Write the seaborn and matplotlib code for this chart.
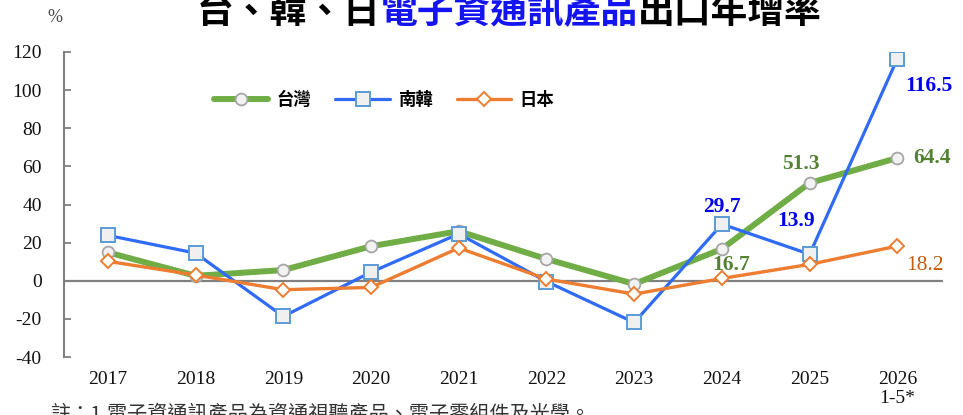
import matplotlib
matplotlib.use("Agg")
import matplotlib.pyplot as plt
import seaborn as sns
import pandas as pd

years = ["2017", "2018", "2019", "2020", "2021", "2022", "2023", "2024", "2025", "2026\n1-5*"]
taiwan = [14.9, 2.6, 5.6, 18.1, 26.0, 11.4, -1.7, 16.7, 51.3, 64.4]
korea = [23.8, 14.5, -18.7, 4.5, 24.6, -0.4, -21.9, 29.7, 13.9, 116.5]
japan = [10.2, 3.0, -4.7, -3.5, 17.2, 0.9, -7.0, 1.2, 8.6, 18.2]
series_names = ["台灣", "南韓", "日本"]
y_ticks = [-40, -20, 0, 20, 40, 60, 80, 100, 120]

sns.set_style("white")
plt.rcParams["font.family"] = ["Liberation Serif", "Noto Sans CJK TC"]

fig = plt.figure(figsize=(9.63, 4.15), dpi=100)
ax = fig.add_axes([64 / 963, 58 / 415, 879 / 963, 305 / 415])

idx = list(range(len(years)))
df = pd.DataFrame({"idx": idx * 3,
                   "value": taiwan + korea + japan,
                   "country": [series_names[0]] * 10 + [series_names[1]] * 10 + [series_names[2]] * 10})

styles = {
    "台灣": dict(color="#70ad47", lw=4.3, marker="o", markersize=8.5,
                markerfacecolor="#f2f2f2", markeredgecolor="#a6a6a6", markeredgewidth=1.3),
    "南韓": dict(color="#2f6bf5", lw=2.3, marker="s", markersize=9.5,
                markerfacecolor="#f0f0f0", markeredgecolor="#5b9bd5", markeredgewidth=1.4),
    "日本": dict(color="#ed7d31", lw=2.4, marker="D", markersize=7.5,
                markerfacecolor="white", markeredgecolor="#ed7d31", markeredgewidth=1.4),
}
for name in series_names:
    sub = df[df["country"] == name]
    sns.lineplot(data=sub, x="idx", y="value", ax=ax, label=name, **styles[name])

ax.set_xlim(-0.5, 9.52)
ax.set_ylim(-40, 120)
ax.set_yticks(y_ticks)
ax.set_yticklabels([str(v) for v in y_ticks])
ax.set_xticks(idx)
ax.set_xticklabels(years)
ax.set_xlabel("")
ax.set_ylabel("")
ax.axhline(0, color="#808080", lw=1.6, zorder=1)

for s in ["top", "right", "bottom"]:
    ax.spines[s].set_visible(False)
ax.spines["left"].set_color("#808080")
ax.spines["left"].set_linewidth(1.5)
ax.tick_params(axis="y", direction="in", length=5, width=1.3, color="#808080",
               pad=16, labelsize=14, labelcolor="#111111", left=True)
ax.tick_params(axis="x", length=0, pad=10, labelsize=14, labelcolor="#111111")
for t in ax.get_xticklabels():
    t.set_linespacing(1.15)

# data labels
lab_font = dict(family="Liberation Serif", fontweight="bold", fontsize=15.5)
def lab(i, vals, text, dx, dy, color, bold=True, ha="center"):
    kw = dict(lab_font)
    if not bold:
        kw["fontweight"] = "normal"
    ax.annotate(text, xy=(i, vals[i]), xytext=(dx, -dy), textcoords="offset pixels",
                ha=ha, va="center", color=color, **kw)

blue_lab = "#0000f0"
green_lab = "#548235"
lab(9, korea, "116.5", 31, 27, blue_lab)
lab(9, taiwan, "64.4", 16, 0, green_lab, ha="left")
lab(8, taiwan, "51.3", -9, -19, green_lab)
lab(8, korea, "13.9", -14, -33, blue_lab)
lab(7, korea, "29.7", 0, -17, blue_lab)
lab(7, taiwan, "16.7", 9, 16, green_lab)
lab(9, japan, "18.2", 28, 19, "#c55a11", bold=False)

# legend
leg = ax.legend(loc="center left", bbox_to_anchor=((205 - 64) / 879, (357 - 100) / 305),
                ncol=3, frameon=False, borderpad=0, handlelength=3.15, handletextpad=0.45,
                columnspacing=1.4, prop=dict(family="Noto Sans CJK TC", weight="bold", size=12.5))
for t in leg.get_texts():
    t.set_color("black")

# title in three colours
cjk = "Noto Sans CJK TC"
t1 = fig.text(197 / 963, (415 - 23) / 415, "台、韓、日", fontsize=26.5, family=cjk,
              fontweight="bold", color="black", ha="left", va="baseline")
t2 = ax.annotate("電子資通訊產品", xy=(1, 0), xycoords=t1, fontsize=26.5, family=cjk,
                 fontweight="bold", color="#1414f0", ha="left", va="bottom")
t3 = ax.annotate("出口年增率", xy=(1, 0), xycoords=t2, fontsize=26.5, family=cjk,
                 fontweight="bold", color="black", ha="left", va="bottom")

fig.text(55 / 963, (415 - 17) / 415, "%", fontsize=13, family="Liberation Serif",
         color="#444444", ha="center", va="center")

fig.text(50 / 963, (415 - 420) / 415, "註：1.電子資通訊產品為資通視聽產品、電子零組件及光學。",
         fontsize=14.5, family=cjk, color="#333333", ha="left", va="baseline")

fig.savefig("out.png", dpi=100)
